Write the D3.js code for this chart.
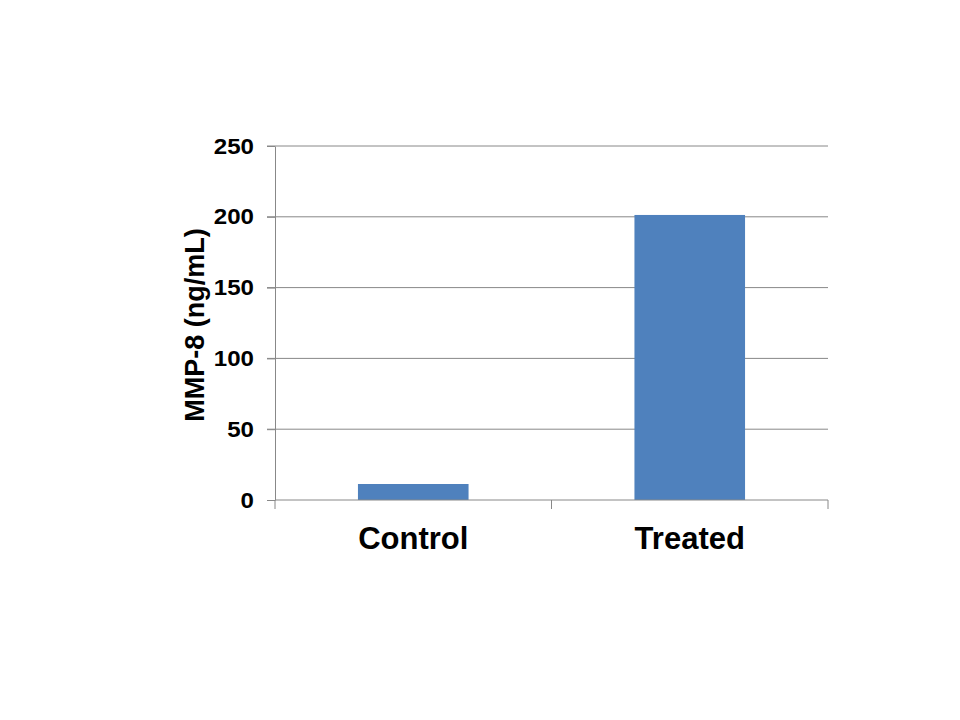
<!DOCTYPE html>
<html lang="en">
<head>
<meta charset="utf-8">
<title>MMP-8</title>
<style>
  body { margin: 0; background: #fff; }
  text { font-family: Arial, "Liberation Sans", sans-serif; font-weight: bold; }
</style>
</head>
<body>
<script src="https://cdn.jsdelivr.net/npm/d3@7"></script>
<script>
// data
var groups = ["Control", "Treated"];
var mmp8 = [11.3, 201.3];
var yTicks = [0, 50, 100, 150, 200, 250];

var width = 960, height = 720;
var plotLeft = 275, plotRight = 828, plotTop = 146, plotBottom = 500;

var svg = d3.select("body").append("svg")
  .attr("width", width).attr("height", height);

var x = d3.scaleBand().domain(groups).range([plotLeft, plotRight]).padding(0);
var y = d3.scaleLinear().domain([0, 250]).range([plotBottom, plotTop]);

// gridlines
svg.append("g").selectAll("line")
  .data(yTicks.filter(function (t) { return t > 0; }))
  .enter().append("line")
  .attr("x1", plotLeft - 8).attr("x2", plotRight)
  .attr("y1", function (d) { return y(d); })
  .attr("y2", function (d) { return y(d); })
  .attr("stroke", "#888").attr("stroke-width", 1);

// bars
svg.append("g").selectAll("rect")
  .data(groups)
  .enter().append("rect")
  .attr("x", function (d) { return x(d) + x.bandwidth() * 0.3; })
  .attr("width", x.bandwidth() * 0.4)
  .attr("y", function (d, i) { return y(mmp8[i]); })
  .attr("height", function (d, i) { return plotBottom - y(mmp8[i]); })
  .attr("fill", "#4F81BD");

// y axis
var yAxis = svg.append("g")
  .attr("transform", "translate(" + plotLeft + ",0)")
  .call(d3.axisLeft(y).tickValues(yTicks).tickSize(8).tickPadding(13).tickSizeOuter(0));
yAxis.select(".domain").attr("stroke", "#888");
yAxis.selectAll(".tick line").attr("stroke", "#888");
yAxis.selectAll(".tick text").attr("fill", "#000").style("font-size", "22px")
  .attr("textLength", function (d) { return String(d).length * 13.4; })
  .attr("lengthAdjust", "spacingAndGlyphs");

// x axis
var xAxis = svg.append("g")
  .attr("transform", "translate(0," + plotBottom + ")")
  .call(d3.axisBottom(x).tickSize(0).tickPadding(27));
xAxis.select(".domain").attr("stroke", "#888").attr("d", "M" + plotLeft + ",0H" + plotRight);
xAxis.selectAll(".tick text").attr("fill", "#000").style("font-size", "31px");

// category separators
svg.append("g").selectAll("line")
  .data([plotLeft, x(groups[1]), plotRight])
  .enter().append("line")
  .attr("x1", function (d) { return d; }).attr("x2", function (d) { return d; })
  .attr("y1", plotBottom).attr("y2", plotBottom + 9)
  .attr("stroke", "#888");

// y label
svg.append("text")
  .attr("transform", "translate(204,325) rotate(-90)")
  .attr("text-anchor", "middle")
  .style("font-size", "27px")
  .text("MMP-8 (ng/mL)");
</script>
</body>
</html>
